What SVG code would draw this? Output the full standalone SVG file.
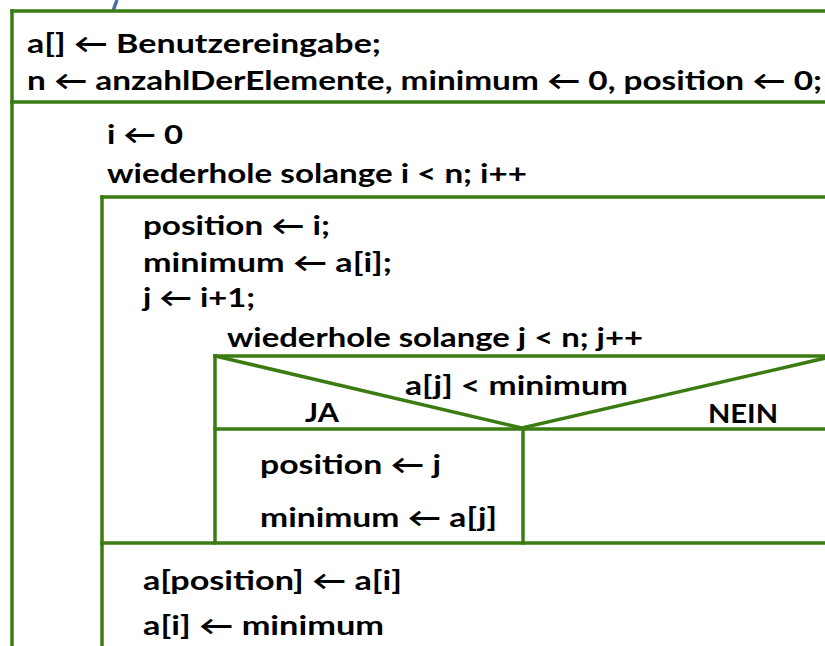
<svg xmlns="http://www.w3.org/2000/svg" width="825" height="646" viewBox="0 0 825 646">
<style>
.ln{stroke:#3b7c12;stroke-width:3.5;fill:none;stroke-linecap:square}
.t{font-family:Lato,"Open Sans","Liberation Sans",sans-serif;font-weight:bold;font-size:26.5px;fill:#000}
</style>
<rect width="825" height="646" fill="#fff"/>
<g id="connectors">
<path d="M117,0 L113,11" stroke="#4a6ea8" stroke-width="3.5" fill="none"/>
</g>
<g id="init">
<line class="ln" x1="12" y1="11" x2="830" y2="11"/>
<line class="ln" x1="12" y1="11" x2="12" y2="650"/>
<line class="ln" x1="12" y1="102" x2="830" y2="102"/>
<text class="t" x="27" y="53" textLength="354" lengthAdjust="spacingAndGlyphs">a[] ← Benutzereingabe;</text>
<text class="t" x="27" y="90" textLength="795" lengthAdjust="spacingAndGlyphs">n ← anzahlDerElemente, minimum ← 0, position ← 0;</text>
</g>
<g id="loop-i">
<text class="t" x="107" y="144" textLength="76" lengthAdjust="spacingAndGlyphs">i ← 0</text>
<text class="t" x="107" y="183" textLength="420" lengthAdjust="spacingAndGlyphs">wiederhole solange i &lt; n; i++</text>
<line class="ln" x1="102" y1="197" x2="830" y2="197"/>
<line class="ln" x1="102" y1="197" x2="102" y2="650"/>
</g>
<g id="loop-i-body">
<text class="t" x="143" y="235" textLength="187" lengthAdjust="spacingAndGlyphs">position ← i;</text>
<text class="t" x="143" y="272" textLength="249" lengthAdjust="spacingAndGlyphs">minimum ← a[i];</text>
<text class="t" x="143" y="307" textLength="112" lengthAdjust="spacingAndGlyphs">j ← i+1;</text>
</g>
<g id="loop-j">
<text class="t" x="227" y="347" textLength="416" lengthAdjust="spacingAndGlyphs">wiederhole solange j &lt; n; j++</text>
</g>
<g id="if">
<line class="ln" x1="215" y1="356" x2="830" y2="356"/>
<line class="ln" x1="215" y1="356" x2="215" y2="543"/>
<line class="ln" x1="215" y1="356" x2="522" y2="428"/>
<line class="ln" x1="522" y1="428" x2="830" y2="357"/>
<line class="ln" x1="215" y1="429" x2="830" y2="429"/>
<line class="ln" x1="523" y1="429" x2="523" y2="543"/>
<text class="t" x="405" y="395" textLength="223" lengthAdjust="spacingAndGlyphs">a[j] &lt; minimum</text>
<text class="t" x="305" y="422" textLength="34" lengthAdjust="spacingAndGlyphs">JA</text>
<text class="t" x="708" y="423" textLength="70" lengthAdjust="spacingAndGlyphs">NEIN</text>
</g>
<g id="if-yes">
<text class="t" x="260" y="474" textLength="181" lengthAdjust="spacingAndGlyphs">position ← j</text>
<text class="t" x="260" y="527" textLength="237" lengthAdjust="spacingAndGlyphs">minimum ← a[j]</text>
</g>
<g id="if-no"></g>
<g id="swap">
<line class="ln" x1="102" y1="543" x2="830" y2="543"/>
<text class="t" x="143" y="590" textLength="259" lengthAdjust="spacingAndGlyphs">a[position] ← a[i]</text>
<text class="t" x="143" y="635" textLength="241" lengthAdjust="spacingAndGlyphs">a[i] ← minimum</text>
</g>
</svg>
